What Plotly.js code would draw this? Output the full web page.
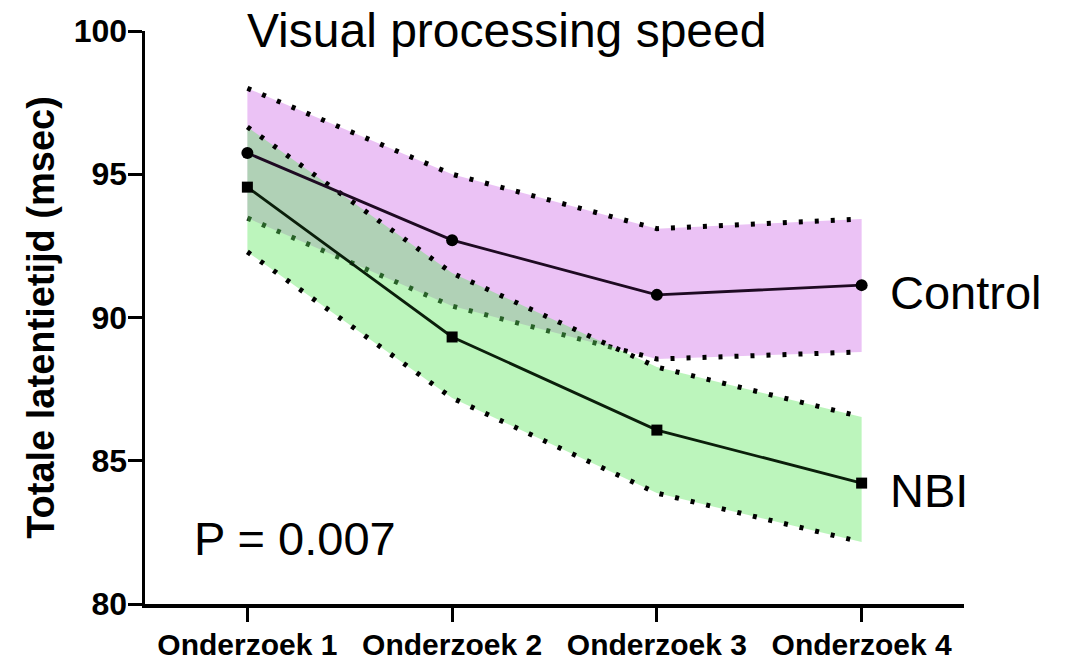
<!DOCTYPE html>
<html>
<head>
<meta charset="utf-8">
<script src="https://cdn.plot.ly/plotly-3.0.1.min.js"></script>
<style>
  html, body { margin: 0; padding: 0; background: #ffffff; }
  #chart { width: 1069px; height: 660px; }
</style>
</head>
<body>
<div id="chart"></div>
<script>
// ---- data ----
const categories = ["Onderzoek 1", "Onderzoek 2", "Onderzoek 3", "Onderzoek 4"];
const controlMean  = [95.74, 92.70, 90.79, 91.13];
const controlUpper = [98.00, 95.00, 93.10, 93.44];
const controlLower = [93.47, 90.40, 88.55, 88.80];
const nbiMean  = [94.55, 89.32, 86.07, 84.22];
const nbiUpper = [96.65, 91.55, 88.27, 86.53];
const nbiLower = [92.29, 87.19, 83.87, 82.16];
const yTicks = [80, 85, 90, 95, 100];
const titleText = "Visual processing speed";
const yTitleText = "Totale latentietijd (msec)";
const pText = "P = 0.007";
const seriesNames = ["Control", "NBI"];

const xIdx = categories.map((c, i) => i);
const FONT = "Arial, 'Liberation Sans', Helvetica, sans-serif";
const dotStyle = { color: "#000000", width: 5, dash: "4px,12px" };

const traces = [
  { x: xIdx, y: controlUpper, mode: "lines", line: dotStyle, hoverinfo: "skip", showlegend: false },
  { x: xIdx, y: controlLower, mode: "lines", line: dotStyle, fill: "tonexty",
    fillcolor: "rgba(204,102,230,0.40)", hoverinfo: "skip", showlegend: false },
  { x: xIdx, y: nbiUpper, mode: "lines", line: dotStyle, hoverinfo: "skip", showlegend: false },
  { x: xIdx, y: nbiLower, mode: "lines", line: dotStyle, fill: "tonexty",
    fillcolor: "rgba(95,230,95,0.42)", hoverinfo: "skip", showlegend: false },
  { x: xIdx, y: controlMean, mode: "lines+markers", name: seriesNames[0],
    line: { color: "#1e0a22", width: 2.8 },
    marker: { symbol: "circle", size: 12, color: "#000000" }, showlegend: false },
  { x: xIdx, y: nbiMean, mode: "lines+markers", name: seriesNames[1],
    line: { color: "#0a1e0a", width: 2.8 },
    marker: { symbol: "square", size: 11, color: "#000000" }, showlegend: false }
];

const layout = {
  width: 1069, height: 660,
  paper_bgcolor: "#ffffff", plot_bgcolor: "rgba(0,0,0,0)",
  margin: { l: 145, r: 105, t: 31, b: 56 },
  showlegend: false,
  title: {
    text: titleText,
    font: { family: FONT, size: 48, color: "#000000" },
    x: 0.474, xref: "container", xanchor: "center",
    y: 0.955, yref: "container", yanchor: "middle"
  },
  xaxis: {
    range: [-0.5, 3.5],
    tickmode: "array", tickvals: xIdx, ticktext: categories,
    showgrid: false, zeroline: false,
    showline: true, linecolor: "#000000", linewidth: 3.5,
    ticks: "outside", ticklen: 14, tickwidth: 3, tickcolor: "#000000",
    ticklabelstandoff: -3,
    tickfont: { family: FONT, size: 30, color: "#000000", weight: "bold" },
    fixedrange: true
  },
  yaxis: {
    range: [80, 100],
    tickmode: "array", tickvals: yTicks, ticktext: yTicks.map(String),
    showgrid: false, zeroline: false,
    showline: true, linecolor: "#000000", linewidth: 3.5,
    ticks: "outside", ticklen: 14, tickwidth: 3, tickcolor: "#000000",
    ticklabelstandoff: -6,
    tickfont: { family: FONT, size: 32, color: "#000000", weight: "bold" },
    title: { text: yTitleText, font: { family: FONT, size: 38, color: "#000000", weight: "bold" }, standoff: 8 },
    automargin: false,
    fixedrange: true
  },
  annotations: [
    { x: 3, y: controlMean[3], xref: "x", yref: "y", text: seriesNames[0], showarrow: false,
      xanchor: "left", yanchor: "middle", xshift: 26, yshift: -7,
      font: { family: FONT, size: 47, color: "#000000" } },
    { x: 3, y: nbiMean[3], xref: "x", yref: "y", text: seriesNames[1], showarrow: false,
      xanchor: "left", yanchor: "middle", xshift: 26, yshift: -7,
      font: { family: FONT, size: 47, color: "#000000" } },
    { x: 0.057, y: 0.115, xref: "paper", yref: "paper", text: pText, showarrow: false,
      xanchor: "left", yanchor: "middle",
      font: { family: FONT, size: 47, color: "#000000" } }
  ]
};

Plotly.newPlot("chart", traces, layout, { displayModeBar: false, staticPlot: true });
</script>
</body>
</html>
